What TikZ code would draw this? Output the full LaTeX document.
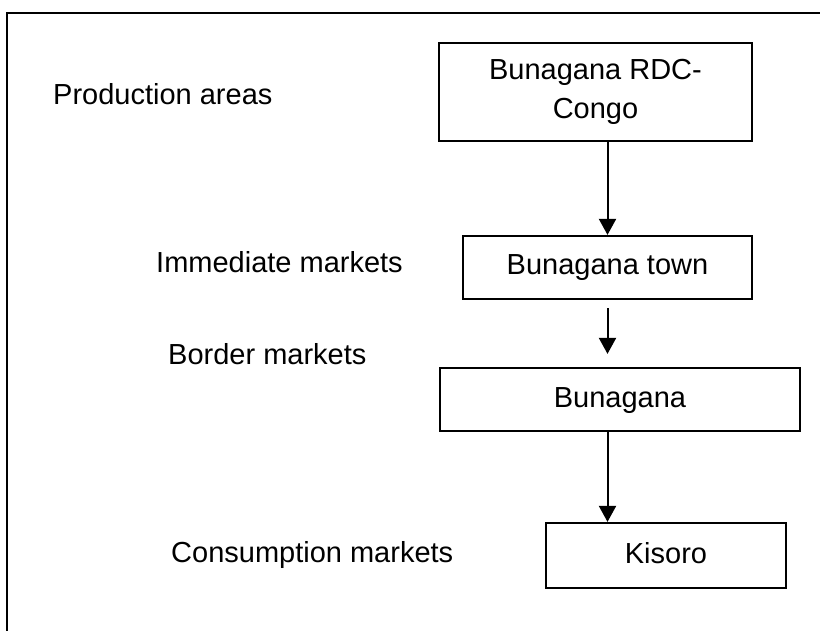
\documentclass[tikz,border=0pt]{standalone}
\usepackage{fontspec}
\setmainfont{Liberation Sans}
\usetikzlibrary{arrows.meta}
\begin{document}
\begin{tikzpicture}[x=1pt,y=-1pt,
  stage/.style={draw,line width=2.2pt,inner sep=0pt,align=center,
    font=\fontsize{29}{39}\selectfont},
  oneline/.style={text height=21pt,text depth=6pt},
  level/.style={anchor=base west,inner sep=0pt,font=\fontsize{29}{34}\selectfont},
  flow/.style={line width=2pt,-{Triangle[width=17pt,length=16pt]}}]
\useasboundingbox (0,0) rectangle (820,631);
% open frame along the left and top edges
\draw[line width=2.5pt] (7,631) -- (7,13) -- (820,13);

% chain of markets
\node[stage,minimum width=313pt,minimum height=98pt] (b1) at (595.5,92) {Bunagana RDC-\\Congo};
\node[stage,oneline,minimum width=289pt,minimum height=63pt] (b2) at (607.5,267.5) {Bunagana town};
\node[stage,oneline,minimum width=360pt,minimum height=63pt] (b3) at (620,399.5) {Bunagana};
\node[stage,oneline,minimum width=240pt,minimum height=65pt] (b4) at (666,555.5) {Kisoro};

% level names
\node[level] (l1) at (53,105) {Production areas};
\node[level] (l2) at (156,273) {Immediate markets};
\node[level] (l3) at (168,364) {Border markets};
\node[level] (l4) at (171,562) {Consumption markets};

% connectors
\draw[flow] (b2.north |- b1.south) -- (b2.north);
\draw[flow,shorten <=8pt,shorten >=13pt] (b2.south) -- (b2.south |- b3.north);
\draw[flow] (b2.south |- b3.south) -- (b2.south |- b4.north);
\end{tikzpicture}
\end{document}
